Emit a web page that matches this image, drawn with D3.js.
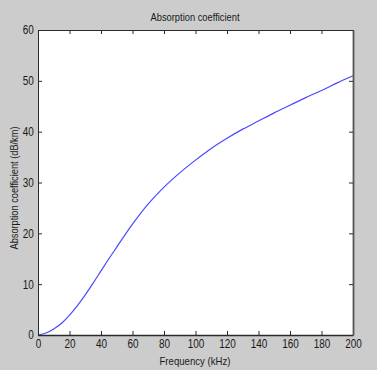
<!DOCTYPE html>
<html>
<head>
<meta charset="utf-8">
<script src="https://cdn.jsdelivr.net/npm/d3@7"></script>
<style>
    body { margin: 0; background: #cccccc; }
    svg { display: block; }
    text { font-family: "Liberation Sans", Arial, sans-serif; fill: #1a1a1a; }
</style>
</head>
<body>
<script>
// chart texts
var chartTitle = "Absorption coefficient";
var xLabel = "Frequency (kHz)";
var yLabel = "Absorption coefficient (dB/km)";

// tick values
var xTicks = [0, 20, 40, 60, 80, 100, 120, 140, 160, 180, 200];
var yTicks = [0, 10, 20, 30, 40, 50, 60];

// curve
var frequency = [0, 5, 10, 15, 20, 25, 30, 35, 40, 45, 50, 55, 60, 70, 80, 90, 100,
    110, 120, 130, 140, 150, 160, 170, 180, 190, 200];
var absorption = [0, 0.4, 1.2, 2.3, 3.9, 5.8, 7.9, 10.2, 12.6, 15.0, 17.3, 19.6, 21.8, 25.8, 29.1, 31.9, 34.4,
    36.7, 38.7, 40.5, 42.1, 43.7, 45.2, 46.7, 48.1, 49.6, 51.0];

var AbsorptionChart = (function () {
    var svg, plot, x, y;
    var width = 377, height = 370;
    var margin = { top: 30, right: 24, bottom: 35, left: 38 };

    return {
        init: init
    };

    function init() {
        //Create the SVG element
        svg = d3.select("body").append("svg")
            .attr("width", width)
            .attr("height", height);

        svg.append("rect")
            .attr("width", width)
            .attr("height", height)
            .attr("fill", "#cccccc");

        x = d3.scaleLinear()
            .domain([0, 200])
            .range([margin.left, width - margin.right]);

        y = d3.scaleLinear()
            .domain([0, 60])
            .range([height - margin.bottom, margin.top]);

        //White plot area
        svg.append("rect")
            .attr("x", x(0))
            .attr("y", y(60))
            .attr("width", x(200) - x(0))
            .attr("height", y(0) - y(60))
            .attr("fill", "#ffffff");

        drawCurve();
        drawAxes();
        drawTexts();
    }

    function drawCurve() {
        var line = d3.line()
            .x(function (d) { return x(d); })
            .y(function (d, i) { return y(absorption[i]); })
            .curve(d3.curveMonotoneX);

        svg.append("path")
            .datum(frequency)
            .attr("d", line)
            .attr("fill", "none")
            .attr("stroke", "#4a4aff")
            .attr("stroke-width", 1.2);
    }

    function drawAxes() {
        var bottom = svg.append("g")
            .attr("transform", "translate(0," + y(0) + ")")
            .call(d3.axisBottom(x).tickValues(xTicks).tickSizeInner(-4).tickSizeOuter(0).tickPadding(4));

        var left = svg.append("g")
            .attr("transform", "translate(" + x(0) + ",0)")
            .call(d3.axisLeft(y).tickValues(yTicks).tickSizeInner(-4).tickSizeOuter(0).tickPadding(5));

        var top = svg.append("g")
            .attr("transform", "translate(0," + y(60) + ")")
            .call(d3.axisTop(x).tickValues(xTicks).tickSizeInner(-4).tickSizeOuter(0).tickFormat(""));

        var right = svg.append("g")
            .attr("transform", "translate(" + x(200) + ",0)")
            .call(d3.axisRight(y).tickValues(yTicks).tickSizeInner(-4).tickSizeOuter(0).tickFormat(""));

        [bottom, left, top, right].forEach(function (g) {
            g.select(".domain").attr("stroke", "#2a2a2a");
            g.selectAll(".tick line").attr("stroke", "#2a2a2a");
            g.selectAll(".tick text")
                .attr("font-family", "Liberation Sans, Arial, sans-serif")
                .attr("font-size", 12)
                .attr("fill", "#1a1a1a")
                .attr("transform", "scale(0.83,1)");
        });

        bottom.select(".domain").attr("stroke-width", 1.6);
        right.select(".domain").attr("stroke-width", 1.8).attr("stroke", "#555");
    }

    function drawTexts() {
        //Title
        svg.append("text")
            .attr("x", 195)
            .attr("y", 20.5)
            .attr("text-anchor", "middle")
            .attr("font-size", 11)
            .attr("textLength", 89)
            .attr("lengthAdjust", "spacingAndGlyphs")
            .text(chartTitle);

        //X label
        svg.append("text")
            .attr("x", 195)
            .attr("y", 365)
            .attr("text-anchor", "middle")
            .attr("font-size", 11)
            .attr("textLength", 71)
            .attr("lengthAdjust", "spacingAndGlyphs")
            .text(xLabel);

        //Y label
        svg.append("text")
            .attr("transform", "translate(18,188) rotate(-90)")
            .attr("text-anchor", "middle")
            .attr("font-size", 11)
            .attr("textLength", 123)
            .attr("lengthAdjust", "spacingAndGlyphs")
            .text(yLabel);
    }
}());

AbsorptionChart.init();
</script>
</body>
</html>
